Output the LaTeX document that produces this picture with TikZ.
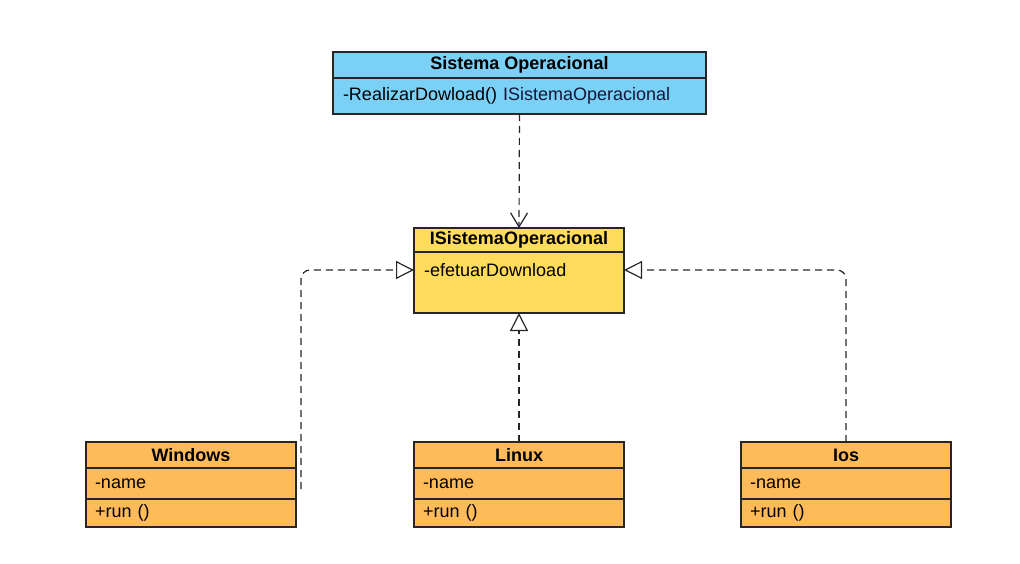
\documentclass[tikz,border=0pt]{standalone}
\usepackage{fontspec}
\setmainfont{Liberation Sans}
\usetikzlibrary{arrows.meta}
\definecolor{sofill}{HTML}{7BD0F5}
\definecolor{ifill}{HTML}{FFDC5C}
\definecolor{cfill}{HTML}{FFBB5A}
\definecolor{navytext}{HTML}{15153A}
\tikzset{
  umlbox/.style={draw=black!85, line width=1.2pt, rectangle, inner sep=0pt, outer sep=0pt, anchor=north west},
  umlhead/.style={umlbox, font=\fontsize{18}{21}\selectfont\bfseries},
  umlrow/.style={umlbox, font=\fontsize{18}{21}\selectfont, align=left, inner xsep=9pt},
  depend/.style={black!85, line width=1.2pt, dash pattern=on 7pt off 5pt, -{Straight Barb[length=14pt, width=17pt, line width=1.2pt]}},
  realize/.style={black!85, line width=1.2pt, dash pattern=on 7pt off 5pt, rounded corners=9pt, -{Triangle[open, fill=white, length=18pt, width=18pt, line width=1.2pt]}}
}
\begin{document}
\begin{tikzpicture}[x=1pt, y=-1pt]
  \useasboundingbox (0,0) rectangle (1020,564);
  % Sistema Operacional
  \node [umlhead, fill=sofill, minimum width=373pt, minimum height=26pt] (so-h) at (333,52) {Sistema Operacional};
  \node [umlrow, fill=sofill, text width=353pt, inner xsep=10pt, minimum height=36pt] (so-m) at (so-h.south west) {-RealizarDowload() \textcolor{navytext}{ISistemaOperacional}};
  % ISistemaOperacional
  \node [umlhead, fill=ifill, minimum width=210pt, minimum height=24pt] (iso-h) at (414,228) {ISistemaOperacional};
  \node [umlbox, fill=ifill, minimum width=210pt, minimum height=61pt] (iso-b) at (iso-h.south west) {};
  \node [anchor=north west, inner sep=0pt, font=\fontsize{18}{21}\selectfont] (iso-m) at ([xshift=10pt, yshift=-11pt]iso-b.north west) {-efetuarDownload};
  % classes
  \foreach \name/\title/\x in {win/Windows/86, lin/Linux/414, ios/Ios/741}{
    \node [umlhead, fill=cfill, minimum width=210pt, minimum height=26pt] (\name-h) at (\x,442) {\title};
    \node [umlrow, fill=cfill, text width=192pt, minimum height=31pt] (\name-a) at (\name-h.south west) {-name};
    \node [umlrow, fill=cfill, text width=192pt, minimum height=28pt] (\name-m) at (\name-a.south west) {+run ()};
  }
  \coordinate (win-end) at (301,489);
  % connectors
  \draw [depend] (so-m.south) -- (iso-h.north);
  \draw [realize] (lin-h.north) -- (iso-b.south);
  \draw [realize] (win-end) |- ([yshift=12.5pt]iso-b.west);
  \draw [realize] (ios-h.north) |- ([yshift=12.5pt]iso-b.east);
\end{tikzpicture}
\end{document}
